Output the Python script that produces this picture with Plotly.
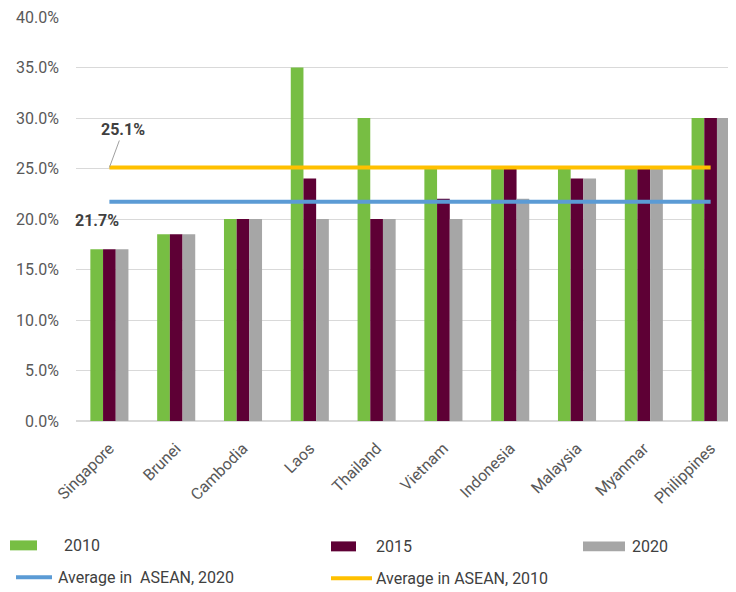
import plotly.graph_objects as go

countries = ["Singapore", "Brunei", "Cambodia", "Laos", "Thailand", "Vietnam",
             "Indonesia", "Malaysia", "Myanmar", "Philippines"]
v2010 = [0.17, 0.185, 0.20, 0.35, 0.30, 0.25, 0.25, 0.25, 0.25, 0.30]
v2015 = [0.17, 0.185, 0.20, 0.24, 0.20, 0.22, 0.25, 0.24, 0.25, 0.30]
v2020 = [0.17, 0.185, 0.20, 0.20, 0.20, 0.20, 0.22, 0.24, 0.25, 0.30]
avg2020 = 0.217
avg2010 = 0.251
yticks = [0, 0.05, 0.10, 0.15, 0.20, 0.25, 0.30, 0.35, 0.40]

C2010 = "#77BE43"
C2015 = "#5E0035"
C2020 = "#A6A6A6"
CBLUE = "#5B9BD5"
CORANGE = "#FFC000"
FONT = "Roboto, sans-serif"

# page offset (body margin) compensation
OFF = 8
W, H = 736 - OFF, 592 - OFF
L, R, T, B = 76 - OFF, 0, 15 - OFF, 171
PW, PH = W - L - R, H - T - B


def px(x):
    return (x - OFF - L) / PW


def py(y):
    return (H - B - (y - OFF)) / PH


fig = go.Figure()
for name, vals, col in [("2010", v2010, C2010), ("2015", v2015, C2015), ("2020", v2020, C2020)]:
    fig.add_trace(go.Bar(x=countries, y=vals, name=name, marker_color=col,
                         marker_line_width=0, showlegend=False))

fig.add_trace(go.Scatter(x=countries, y=[avg2020] * len(countries), mode="lines",
                         line=dict(color=CBLUE, width=4), name="Average in  ASEAN, 2020",
                         showlegend=False))
fig.add_trace(go.Scatter(x=countries, y=[avg2010] * len(countries), mode="lines",
                         line=dict(color=CORANGE, width=4), name="Average in ASEAN, 2010",
                         showlegend=False))

fig.add_annotation(x=countries[0], y=avg2010, xref="x", yref="y",
                   text="<b>25.1%</b>", showarrow=True, arrowhead=0, arrowwidth=1,
                   arrowcolor="#A0A0A0", ax=14, ay=-38,
                   font=dict(family=FONT, size=16, color="#404040"))
fig.add_annotation(x=countries[0], y=0.199, xref="x", yref="y", xshift=-12,
                   text="<b>21.7%</b>", showarrow=False,
                   font=dict(family=FONT, size=16, color="#404040"))

# manual legend
shapes = []
legend_items = [
    ("rect", C2010, 10, 37, 546, "2010", 62),
    ("rect", C2015, 331, 356, 547, "2015", 374),
    ("rect", C2020, 583, 625, 547, "2020", 630),
    ("line", CBLUE, 16, 52, 578, "Average in  ASEAN, 2020", 56),
    ("line", CORANGE, 331, 372, 579, "Average in ASEAN, 2010", 374),
]
for kind, col, x0, x1, yc, label, tx in legend_items:
    if kind == "rect":
        shapes.append(dict(type="rect", xref="paper", yref="paper",
                           x0=px(x0), x1=px(x1), y0=py(yc + 5), y1=py(yc - 5),
                           fillcolor=col, line=dict(width=0)))
    else:
        shapes.append(dict(type="line", xref="paper", yref="paper",
                           x0=px(x0), x1=px(x1), y0=py(yc), y1=py(yc),
                           line=dict(color=col, width=4)))
    fig.add_annotation(x=px(tx), y=py(yc), xref="paper", yref="paper",
                       xanchor="left", yanchor="middle", text=label, showarrow=False,
                       font=dict(family=FONT, size=16, color="#404040"))

fig.update_layout(
    width=W, height=H,
    margin=dict(l=L, r=R, t=T, b=B),
    paper_bgcolor="white", plot_bgcolor="white",
    barmode="group", bargap=0.43, bargroupgap=0,
    shapes=shapes,
    font=dict(family=FONT, size=16, color="#595959"),
    xaxis=dict(range=[-0.5, 9.38], tickangle=-45, showgrid=False, showline=False,
               ticks="", ticklabelstandoff=14,
               tickfont=dict(family=FONT, size=16, color="#595959")),
    yaxis=dict(range=[0, 0.40], tickvals=yticks, tickformat=".1%", showgrid=True,
               gridcolor="#D9D9D9", gridwidth=1, zeroline=True, zerolinecolor="#D9D9D9",
               showline=False, ticks="", ticklen=0, ticklabelstandoff=16,
               ticklabeloverflow="allow",
               tickfont=dict(family=FONT, size=16, color="#595959")),
)

fig.write_html("out.html")
